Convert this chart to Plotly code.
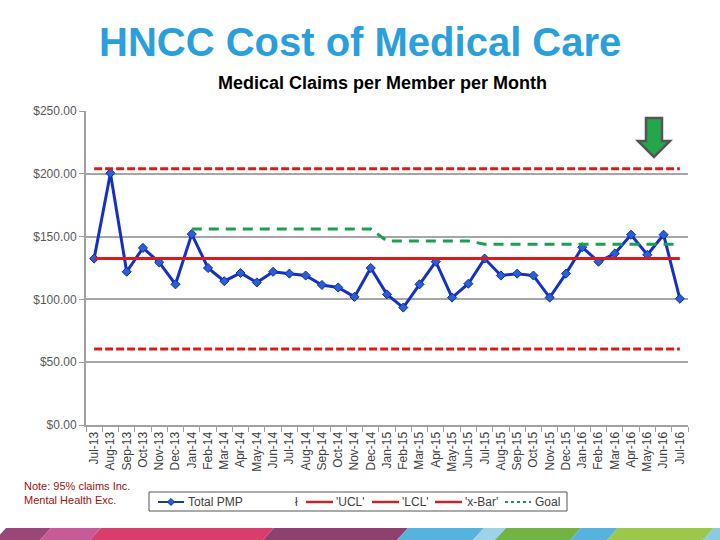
import plotly.graph_objects as go

months = ["Jul-13", "Aug-13", "Sep-13", "Oct-13", "Nov-13", "Dec-13",
          "Jan-14", "Feb-14", "Mar-14", "Apr-14", "May-14", "Jun-14",
          "Jul-14", "Aug-14", "Sep-14", "Oct-14", "Nov-14", "Dec-14",
          "Jan-15", "Feb-15", "Mar-15", "Apr-15", "May-15", "Jun-15",
          "Jul-15", "Aug-15", "Sep-15", "Oct-15", "Nov-15", "Dec-15",
          "Jan-16", "Feb-16", "Mar-16", "Apr-16", "May-16", "Jun-16",
          "Jul-16"]

total_pmp = [132.5, 200.5, 122, 141, 129.5, 112,
             152, 125, 114.5, 121, 113.5, 122,
             120.5, 119, 111.5, 109.5, 102, 125,
             104, 93.5, 112, 130, 101.5, 112.5,
             132.5, 119, 120.5, 119, 101.5, 120.5,
             141.5, 130, 136.5, 151.5, 135.5, 151.5,
             100.5]

ucl_value = 204
lcl_value = 60.5
xbar_value = 132.5
ucl = [ucl_value] * len(months)
lcl = [lcl_value] * len(months)
xbar = [xbar_value] * len(months)
goal = [None] * 6 + [156] * 12 + [146.5] * 6 + [144] * 13

y_ticks = [0, 50, 100, 150, 200, 250]
y_tick_text = ["$0.00", "$50.00", "$100.00", "$150.00", "$200.00", "$250.00"]

legend_names = ["Total PMP", "'UCL'", "'LCL'", "'x-Bar'", "Goal"]

# plot-area pixel geometry
L, R, T, B = 86, 688, 111, 425
W, H = R - L, B - T


def px(x):
    return (x - L) / W


def py(y):
    return (B - y) / H


def poly(pts):
    return "M " + " L ".join(f"{px(x):.4f},{py(y):.4f}" for x, y in pts) + " Z"


FONT = "Liberation Sans, Arial, sans-serif"
RED = "#DD1A1A"
BLUE = "#1430C8"
GREEN = "#1E9E4E"
LEG_RED = "#C0282D"

fig = go.Figure()

fig.add_trace(go.Scatter(x=months, y=total_pmp, name=legend_names[0], mode="lines+markers",
                         line=dict(color=BLUE, width=3),
                         marker=dict(symbol="diamond", size=7, color="#2A5FD8",
                                     line=dict(color="#10309A", width=1))))
fig.add_trace(go.Scatter(x=months, y=ucl, name=legend_names[1], mode="lines",
                         line=dict(color=RED, width=3, dash="8px,3px")))
fig.add_trace(go.Scatter(x=months, y=lcl, name=legend_names[2], mode="lines",
                         line=dict(color=RED, width=3, dash="8px,3px")))
fig.add_trace(go.Scatter(x=months, y=xbar, name=legend_names[3], mode="lines",
                         line=dict(color=RED, width=3)))
fig.add_trace(go.Scatter(x=months, y=goal, name=legend_names[4], mode="lines",
                         line=dict(color=GREEN, width=3, dash="10px,7px")))

shapes = []
annotations = []

# green down arrow
arrow = [(646, 118), (662, 118), (662, 141), (670, 141), (654, 157), (638, 141), (646, 141)]
shapes.append(dict(type="path", xref="paper", yref="paper", path=poly(arrow),
                   fillcolor="#22A84A", line=dict(color="#555555", width=2.5)))

# decorative bottom band
band = [(0, 45, "#9A4679"), (45, 95, "#C95A99"), (95, 268, "#D93D6D"),
        (268, 402, "#8E406F"), (402, 478, "#56B3DE"), (478, 500, "#9ED2E6"),
        (500, 575, "#72B344"), (575, 612, "#56B3DE"), (612, 708, "#9BC84A"),
        (708, 730, "#8ACBE2")]
for x0, x1, c in band:
    pts = [(x0 + 6, 528), (x1 + 6, 528), (x1 - 6, 541), (x0 - 6, 541)]
    shapes.append(dict(type="path", xref="paper", yref="paper", path=poly(pts),
                       fillcolor=c, line=dict(width=0), layer="below"))

# legend box (drawn by hand to match the original spacing)
LY = 502
shapes.append(dict(type="rect", xref="paper", yref="paper", x0=px(149), x1=px(567),
                   y0=py(511), y1=py(492), line=dict(color="#555555", width=1),
                   fillcolor="white"))
legend_items = [  # (symbol x0, symbol x1, text x, colour, dash, width)
    (158, 184, 186, "#1A3AA8", "solid", 2),
    (306, 333, 334, LEG_RED, "solid", 2.5),
    (372, 399, 400, LEG_RED, "solid", 2.5),
    (435, 462, 463, LEG_RED, "solid", 2.5),
    (505, 531, 533, "#2E8B57", "dot", 2),
]
for name, (s0, s1, tx, col, dash, lw) in zip(legend_names, legend_items):
    shapes.append(dict(type="line", xref="paper", yref="paper", x0=px(s0), x1=px(s1),
                       y0=py(LY), y1=py(LY), line=dict(color=col, width=lw, dash=dash)))
    annotations.append(dict(text=name, x=px(tx), y=py(LY), xref="paper", yref="paper",
                            showarrow=False, xanchor="left", yanchor="middle",
                            font=dict(family=FONT, size=12, color="#404040")))
diamond = [(171, LY - 3.5), (174.5, LY), (171, LY + 3.5), (167.5, LY)]
shapes.append(dict(type="path", xref="paper", yref="paper", path=poly(diamond),
                   fillcolor="#2A5FD8", line=dict(color="#10309A", width=1)))
annotations.append(dict(text="ł", x=px(296), y=py(LY), xref="paper", yref="paper",
                        showarrow=False, xanchor="center", yanchor="middle",
                        font=dict(family=FONT, size=12, color="#404040")))

annotations += [
    dict(text="<b>HNCC Cost of Medical Care</b>", x=px(360), y=py(42), xref="paper", yref="paper",
         showarrow=False, font=dict(family=FONT, size=40, color="#2B9FDB"),
         xanchor="center", yanchor="middle"),
    dict(text="<b>Medical Claims per Member per Month</b>", x=px(382), y=py(83), xref="paper",
         yref="paper", showarrow=False, font=dict(family=FONT, size=18, color="#000000"),
         xanchor="center", yanchor="middle"),
    dict(text="Note: 95% claims Inc.<br>Mental Health Exc.", x=px(22), y=py(478), xref="paper",
         yref="paper", showarrow=False, align="left",
         font=dict(family=FONT, size=11, color="#A01010"), xanchor="left", yanchor="top"),
]

fig.update_layout(
    width=720, height=540,
    margin=dict(l=L, r=720 - R, t=T, b=540 - B, autoexpand=False),
    paper_bgcolor="white", plot_bgcolor="white",
    font=dict(family=FONT, size=12, color="#404040"),
    showlegend=False,
    shapes=shapes,
    annotations=annotations,
    xaxis=dict(type="category", range=[-0.5, len(months) - 0.5], tickangle=-90,
               showgrid=False, showline=True, linecolor="#A0A0A0", linewidth=2,
               ticks="outside", tickson="boundaries", ticklen=5, tickcolor="#A0A0A0",
               tickfont=dict(family=FONT, size=12, color="#404040"), fixedrange=True),
    yaxis=dict(range=[0, 250], tickvals=y_ticks, ticktext=y_tick_text,
               showgrid=True, gridcolor="#A6A6A6", gridwidth=2,
               showline=True, linecolor="#A0A0A0", linewidth=2,
               ticks="outside", ticklen=5, tickcolor="#A0A0A0",
               tickfont=dict(family=FONT, size=12, color="#595959"),
               zeroline=False, fixedrange=True),
)

fig.write_html("out.html")
